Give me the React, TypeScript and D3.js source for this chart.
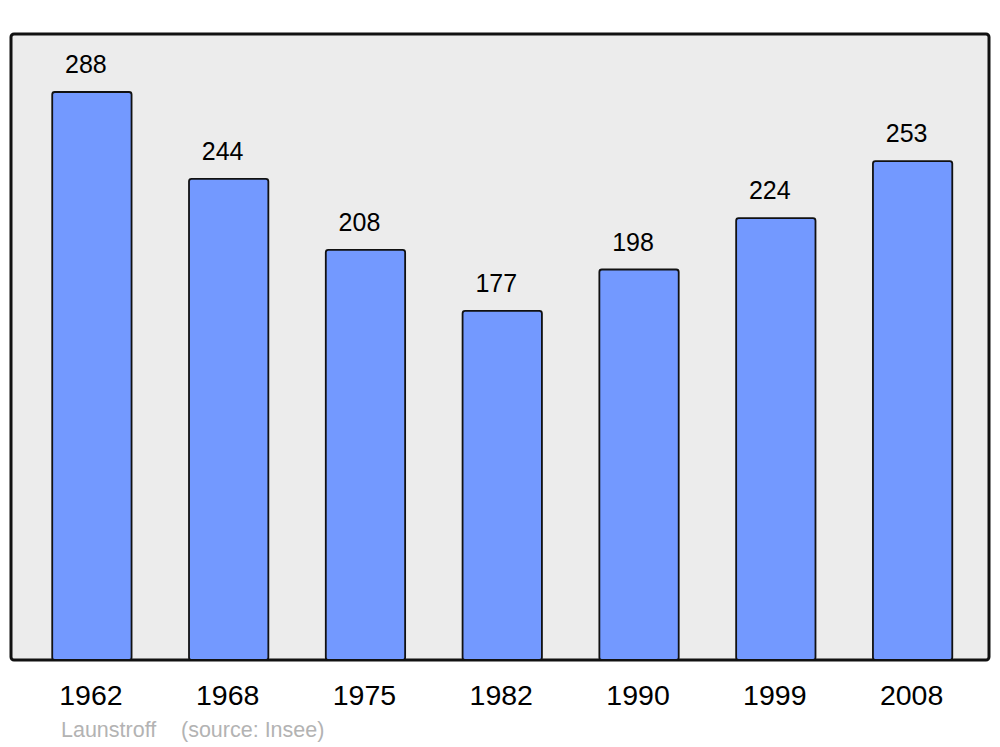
import React from "react";
import * as d3 from "d3";

const years = ["1962", "1968", "1975", "1982", "1990", "1999", "2008"];
const population = [288, 244, 208, 177, 198, 224, 253];
const commune = "Launstroff";
const source = "(source: Insee)";

export default function App() {
  const W = 1000;
  const H = 747;
  const panel = { x: 11, y: 34, w: 978, h: 626 };
  const x = d3.scaleBand<string>().domain(years).range([23.5, 981]).paddingInner(0.42).paddingOuter(0.21);
  const y = d3.scaleLinear().domain([0, 288]).range([660, 92]);
  const font = "Liberation Sans, Arial, sans-serif";
  return (
    <svg width={W} height={H} style={{ position: "absolute", left: 0, top: 0 }}>
      <rect x={0} y={0} width={W} height={H} fill="#ffffff" />
      <rect
        x={panel.x}
        y={panel.y}
        width={panel.w}
        height={panel.h}
        rx={3}
        fill="#ececec"
        stroke="#111"
        strokeWidth={3}
      />
      {years.map((yr, i) => {
        const bx = x(yr)!;
        const bw = x.bandwidth();
        const top = y(population[i]);
        return (
          <g key={yr}>
            <rect
              x={bx}
              y={top}
              width={bw}
              height={y(0) - top}
              rx={2.5}
              fill="#7399ff"
              stroke="#111"
              strokeWidth={1.8}
            />
            <text
              x={bx + bw / 2 - 6}
              y={top - 19}
              textAnchor="middle"
              fontFamily={font}
              fontSize={25}
              fill="#000"
            >
              {population[i]}
            </text>
            <text
              x={bx + bw / 2 - 1}
              y={705}
              textAnchor="middle"
              fontFamily={font}
              fontSize={28.5}
              fill="#000"
            >
              {yr}
            </text>
          </g>
        );
      })}
      <text x={61} y={737} fontFamily={font} fontSize={21.5} fill="#b3b3b3">
        {commune}
      </text>
      <text x={181} y={737} fontFamily={font} fontSize={21.5} fill="#b3b3b3">
        {source}
      </text>
    </svg>
  );
}
